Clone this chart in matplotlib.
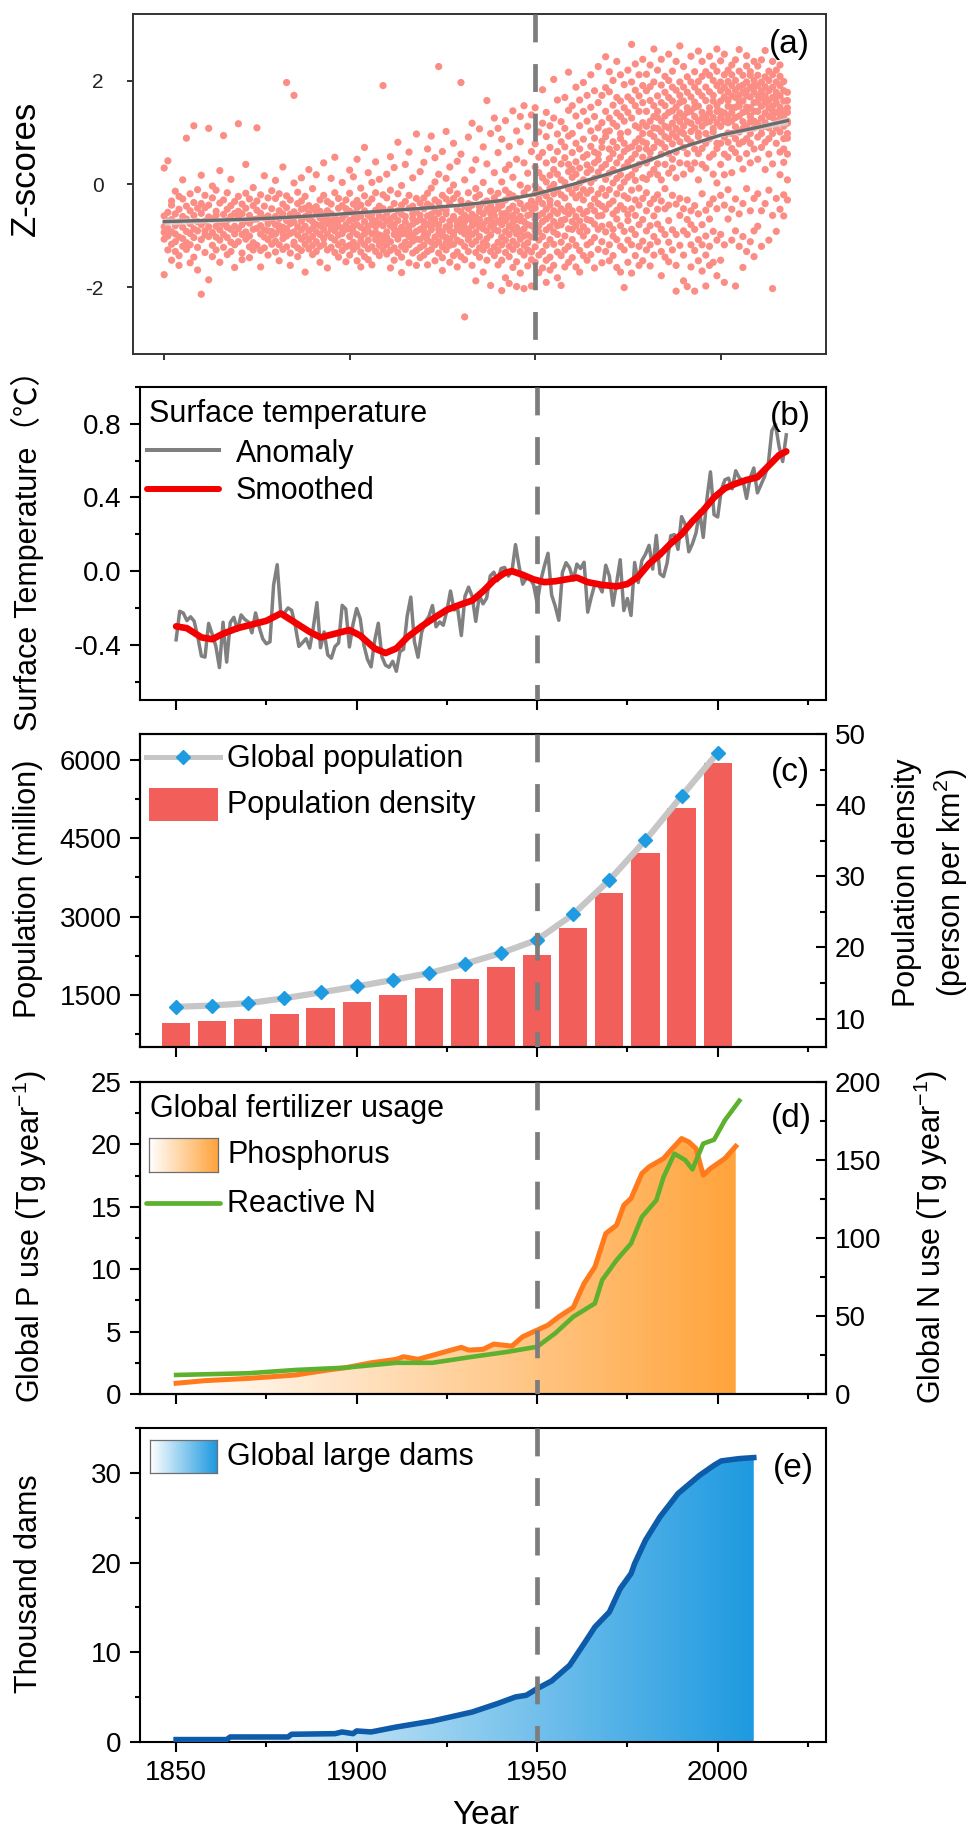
import numpy as np
import matplotlib
matplotlib.use("Agg")
import matplotlib.pyplot as plt
from matplotlib.colors import LinearSegmentedColormap
from matplotlib.lines import Line2D
from matplotlib.patches import Rectangle
from matplotlib.ticker import MultipleLocator, FormatStrFormatter

plt.rcParams['font.family'] = ['Liberation Sans', 'DejaVu Sans']
plt.rcParams['axes.unicode_minus'] = False
plt.rcParams['mathtext.fontset'] = 'custom'
plt.rcParams['mathtext.rm'] = 'Liberation Sans'
plt.rcParams['mathtext.default'] = 'regular'

# ---------------- (a) z-scores, one string per year, values x100 ----------------
z_1850s = ["-176 -83 -107 -62 31 -94", "45 -101 -72 -128 -55 -86", "-93 -117 -41 -69 -148 -33",
           "-58 -112 -14 -81 -131 -97", "-139 -74 -24 -103 -49 -158", "-84 -29 -121 -63 8 -106",
           "89 -68 -114 -43 -92 -127", "-52 -96 -153 -19 -77 -118", "113 -104 -61 -87 -36 -142",
           "-123 -47 -91 -11 -73 -167"]
z_1860s = ["-214 -79 -38 -108 -57 17", "-91 -133 -46 -72 -22 -99", "-186 108 -64 -102 -41 -83",
           "-68 -119 -27 -94 -141 -4", "-103 -53 -82 -128 -61 -12", "-37 -109 -74 -89 26 -152",
           "94 -59 -123 -78 -31 -98", "-84 -137 -49 -104 -17 -71", "-113 -42 -88 -63 -131 9",
           "-57 -97 -34 -162 -82 -118"]
z_1870s = ["117 -66 -112 -53 -87 -24", "-98 -58 -134 -39 -79 -147", "-47 -93 -18 -107 -72 38",
           "-122 -76 -61 -143 -29 -101", "-69 -114 -42 -88 -7 -128", "109 -86 -51 -119 -68 -33",
           "-81 -129 -57 -97 -21 -161", "-43 -103 -66 -124 16 -89", "-108 -62 -91 -27 -138 -77",
           "-92 -48 -117 -71 -13 -99"]
z_1880s = ["-63 -97 -28 -132 -79 7 -111", "-88 -52 -118 -67 -149 -19 -81",
           "-106 -39 -84 -127 -58 33 -96", "197 -71 -101 -46 -122 -23 -87",
           "-77 -134 -59 -96 -31 -158 -69", "172 -93 -54 -113 -74 2 -118",
           "-99 -61 -124 -38 -83 -141 -16", "-72 -107 -33 -89 -129 -49 12",
           "-117 -82 -47 -101 -24 -63 -171", "-57 -91 -126 -42 -108 -68 28"]
z_1890s = ["-86 -48 -119 -73 -9 -102 -137", "-79 -112 -44 -131 -57 18 -93",
           "-98 -66 -31 -121 -81 -53 -152", "-61 -117 -88 -22 -106 -74 41",
           "-128 -77 -52 -97 -34 -69 -163", "-73 -104 -39 -123 -87 11 -58",
           "-109 -64 -91 -17 -133 -78 52", "-82 -118 -47 -99 -71 -28 -142",
           "-96 -42 -113 -67 3 -86 -129", "-59 -88 -122 -31 -79 -151 -48"]
z_1900s = ["-87 -53 -119 -71 -18 -102 -138 27", "-113 -68 -39 -93 -127 -57 14 -82",
           "-79 -121 -46 -98 -32 -149 -66 48", "-62 -103 -132 -41 -84 -111 -8 -161",
           "-118 -73 -89 -52 -141 -23 -97 71", "-82 -109 -37 -126 -61 -91 22 -147",
           "-97 -58 -122 -29 -78 -157 3 -68", "-51 -94 -131 -72 -108 -17 43 -83",
           "-112 -77 -43 -119 -62 -99 -139 9", "191 -66 -101 -48 -128 -81 -21 -114"]
z_1910s = ["-93 -118 -57 -27 -104 -136 19 -72", "-81 -49 -112 -129 -68 -12 -163 53",
           "-98 -63 -124 -38 -87 -148 32 -79", "-71 -107 -52 -133 -19 -92 81 -101",
           "-121 -84 -41 -97 -59 -142 -3 -172", "-63 -89 -127 -34 -113 -74 38 -96",
           "-102 -47 -83 -118 -22 -153 62 -91", "-78 -111 -58 -134 -43 -99 12 -67",
           "-92 -129 -54 -73 -107 -28 97 -158", "-108 -69 -37 -88 -123 -61 24 -143"]
z_1920s = ["-82 -119 -48 -101 -27 -73 -138 42 -91", "-97 -62 -131 -79 -18 -109 -39 68 -157",
           "-71 -113 -43 -89 -127 -8 -59 -83 93", "-118 -77 -52 -103 -31 -149 4 -68 51",
           "228 -88 -57 -112 -36 -134 -79 19 -97", "-69 -122 -47 -93 -143 -22 -101 63 -168",
           "-104 -58 -83 -128 -29 -114 11 -51 102", "-81 -107 -38 -72 -152 -91 33 -119 -13",
           "-117 -63 -94 -28 -99 -139 -67 79 -2", "-49 -88 -132 -74 -109 -19 44 -161 -82"]
z_1930s = ["197 -79 -113 -54 -92 -141 -32 58 -68", "-258 -97 -61 -121 -43 -84 8 -147 -73",
           "-89 -48 -108 -67 -131 -17 91 -102 -38", "-72 -117 -81 -41 -98 -158 27 -59 118",
           "-111 -64 -93 -133 -26 -77 47 -188 -9", "-83 -102 -53 -124 -69 -21 107 -142 -44",
           "-58 -114 -87 -37 -128 3 72 -79 -171", "162 -91 -49 -119 -71 -33 -106 39 -148",
           "-99 -68 -131 -42 -82 -14 98 -197 -57", "-77 -122 -62 -88 -27 -139 22 -51 128"]
z_1940s = ["-91 -47 -113 -72 -129 -18 61 -157 -36 108", "-68 -103 -41 -118 -79 4 -148 87 -58 -207",
           "-109 -57 -92 -31 -133 -71 28 -182 123 -12", "-82 -121 -49 -98 -19 -141 73 -63 -193 37",
           "-61 -88 -127 -43 -111 13 -74 142 -162 -23", "-97 -69 -118 -52 -84 -28 103 -151 -199 48",
           "-92 -38 -107 -63 -131 -2 82 -173 -71 131", "-73 -119 -48 -87 -17 -138 41 -101 152 -203",
           "-114 -79 -42 -99 -61 21 -159 112 -8 -128", "-58 -103 -132 -33 -81 63 -147 -47 134 -198"]
z_1950s = ["-47 -91 -18 -122 33 -68 -152 78 -3 -39 148", "-81 -29 -109 22 -61 -138 101 -11 -172 52 -93",
           "-38 -102 12 -73 -131 61 -17 -163 118 -57 183", "-68 -23 -119 41 -89 -49 92 -148 4 -191 139",
           "-32 -108 17 -62 -83 71 -142 -8 113 -41 -167", "-93 -52 28 -117 -1 -73 128 -158 47 -19 203",
           "-57 -12 -98 63 -132 -38 97 -81 19 -182 163", "-21 -79 39 -113 -48 82 -139 8 121 -71 -197",
           "-101 -27 51 -69 3 -128 108 -53 -161 72 168", "-43 -87 24 -58 93 -121 -9 143 -152 38 217"]
z_1960s = ["-73 -18 61 -108 13 -52 98 -143 29 -88 152", "-27 43 -81 -7 79 -119 19 -63 132 -161 188",
           "-92 2 -49 68 -129 31 -21 113 -72 163 -171", "-11 -58 52 -101 87 -31 8 -139 141 -83 197",
           "-53 22 -91 57 -18 122 -118 37 -69 172 -148", "3 -71 73 -42 103 -113 28 -12 149 -137 212",
           "-78 41 -29 89 -104 11 131 -52 62 -163 181", "-19 58 -62 109 -127 23 -88 158 47 -38 228",
           "-61 32 83 -9 -112 119 -43 71 -153 172 -82", "9 -49 92 -93 38 141 -22 -131 101 187 247"]
z_1970s = ["-39 49 103 -79 21 128 -118 68 -11 179 -149 218", "28 -58 82 -101 118 2 -33 153 -139 59 201 -88",
           "-68 41 112 -19 71 -108 138 11 -162 168 -51 238", "18 -81 88 -42 131 52 -121 -7 161 98 -171 212",
           "-49 63 122 -92 33 148 -23 79 -128 193 4 -201", "42 -28 101 -71 139 13 -109 169 69 -152 221 -59",
           "-88 72 128 -12 49 -118 162 18 -48 198 -173 271", "7 -61 113 81 -98 152 29 -139 182 58 -31 233",
           "-41 88 141 -79 38 171 -8 -121 109 212 -158 69", "52 -69 119 12 -111 158 82 -28 191 -149 242 98"]
z_1980s = ["-17 79 141 -91 41 181 112 -52 9 -128 213 68", "61 -38 122 162 -81 19 98 -118 189 49 231 -159",
           "-62 92 152 28 -102 131 71 -29 198 -138 109 262", "39 -78 108 171 -21 82 141 -112 18 221 -49 129",
           "-33 101 158 58 -88 122 8 192 -131 79 242 -178", "71 -48 132 178 -9 92 152 -98 38 209 -142 112",
           "-71 109 168 21 -113 139 59 201 -41 88 252 -151", "48 -22 118 161 -89 78 188 31 -128 142 219 98",
           "-39 91 149 12 -98 129 182 62 -158 108 238 -208", "82 -61 138 172 -28 101 198 41 -119 121 268 158"]
z_1990s = ["-48 112 161 19 -91 131 188 71 -138 98 228 -188", "59 -31 121 178 -98 88 148 208 -69 39 139 -199",
           "-79 102 169 29 -118 141 198 81 -52 118 248 -161", "41 -42 131 188 -88 109 159 218 -129 68 149 -208",
           "-58 92 151 8 -108 179 122 59 -149 199 258 99", "69 -19 139 171 -79 112 209 38 -118 128 238 -169",
           "-51 98 162 31 -101 188 131 79 -138 218 119 -198", "52 -68 121 179 -39 148 211 88 -121 139 248 -158",
           "-29 108 172 58 -92 129 201 19 -152 161 229 101", "79 -48 141 191 2 119 219 69 -109 152 262 -178"]
z_2000s = ["38 112 161 198 -22 129 79 181 -98 141 239 -148", "91 138 -41 169 212 58 121 -118 188 18 252 -191",
           "119 52 179 -68 151 221 99 -11 162 81 199 131", "69 148 191 22 122 231 -49 171 98 -109 139 212",
           "129 88 168 -29 201 111 149 61 -91 182 241 -198", "101 158 49 189 132 -58 219 78 151 -121 172 261",
           "139 82 178 108 -38 211 161 29 121 -102 192 -162", "112 171 59 198 141 -9 88 229 149 -131 181 249",
           "148 98 188 41 131 218 -52 169 79 121 -112 211", "122 179 68 158 201 109 -28 141 238 -91 191 -141"]
z_2010s = ["141 91 191 159 48 118 211 -19 171 -82 229", "109 168 71 151 198 128 -52 98 181 -121 241",
           "158 119 189 81 138 208 28 171 -38 112 259", "131 181 88 148 219 109 -12 162 58 -109 201",
           "151 98 188 129 168 39 212 -61 141 -203 238", "169 122 198 139 79 158 221 -28 109 -92 178",
           "128 191 101 149 209 62 171 -49 138 18 231", "161 112 181 141 199 68 129 -21 42 88 -62",
           "139 178 98 162 118 58 8 -31 89 122 148"]

curve_years = [1850, 1860, 1870, 1880, 1890, 1900, 1910, 1920, 1930, 1940,
               1950, 1960, 1970, 1980, 1990, 2000, 2010, 2018]
curve_z = [-0.73, -0.71, -0.69, -0.66, -0.62, -0.57, -0.52, -0.47, -0.41, -0.33,
           -0.20, -0.01, 0.20, 0.44, 0.72, 0.95, 1.10, 1.23]
curve_se = [0.07, 0.05, 0.04, 0.035, 0.03, 0.03, 0.03, 0.03, 0.03, 0.03,
            0.03, 0.03, 0.03, 0.03, 0.03, 0.035, 0.05, 0.08]

# ---------------- (b) surface temperature anomaly ----------------
temp_years = list(range(1850, 2020))
temp_anomaly = [
    -0.373, -0.218, -0.228, -0.269, -0.248, -0.272, -0.358, -0.461, -0.467, -0.284,
    -0.343, -0.407, -0.524, -0.278, -0.494, -0.279, -0.251, -0.321, -0.238, -0.262,
    -0.276, -0.335, -0.227, -0.304, -0.368, -0.395, -0.384, -0.075, 0.035, -0.230,
    -0.227, -0.200, -0.213, -0.296, -0.409, -0.389, -0.367, -0.418, -0.307, -0.171,
    -0.416, -0.330, -0.455, -0.473, -0.410, -0.390, -0.186, -0.206, -0.412, -0.289,
    -0.203, -0.259, -0.402, -0.479, -0.520, -0.377, -0.283, -0.465, -0.511, -0.522,
    -0.490, -0.544, -0.437, -0.424, -0.244, -0.141, -0.383, -0.468, -0.333, -0.275,
    -0.247, -0.187, -0.302, -0.276, -0.294, -0.215, -0.108, -0.210, -0.206, -0.350,
    -0.137, -0.087, -0.137, -0.273, -0.131, -0.178, -0.147, -0.026, -0.006, -0.052,
    0.014, 0.020, -0.027, -0.004, 0.144, 0.025, -0.071, -0.038, -0.039, -0.074,
    -0.173, -0.052, 0.028, 0.097, -0.129, -0.190, -0.267, -0.007, 0.046, 0.017,
    -0.049, 0.038, 0.014, 0.048, -0.223, -0.140, -0.068, -0.074, -0.113, 0.032,
    -0.027, -0.186, -0.065, 0.062, -0.214, -0.149, -0.241, 0.047, -0.062, 0.057,
    0.092, 0.140, 0.011, 0.194, -0.014, -0.030, 0.045, 0.192, 0.198, 0.118,
    0.296, 0.254, 0.105, 0.148, 0.208, 0.325, 0.183, 0.390, 0.539, 0.306,
    0.294, 0.441, 0.496, 0.505, 0.447, 0.545, 0.506, 0.491, 0.395, 0.506,
    0.560, 0.425, 0.470, 0.514, 0.579, 0.763, 0.797, 0.677, 0.595, 0.740]
smooth_years = [1850, 1853, 1857, 1860, 1863, 1867, 1871, 1875, 1879, 1883, 1887,
                1890, 1894, 1898, 1901, 1905, 1908, 1911, 1914, 1918, 1921, 1925,
                1929, 1932, 1935, 1938, 1941, 1943, 1946, 1949, 1952, 1955, 1958,
                1961, 1964, 1968, 1972, 1975, 1978, 1981, 1984, 1987, 1990, 1993,
                1996, 1999, 2002, 2005, 2008, 2011, 2014, 2017, 2019]
smooth_temp = [-0.30, -0.31, -0.36, -0.37, -0.34, -0.31, -0.29, -0.27, -0.23, -0.28, -0.33,
               -0.36, -0.34, -0.32, -0.35, -0.42, -0.445, -0.42, -0.36, -0.30, -0.26, -0.21,
               -0.18, -0.16, -0.11, -0.05, -0.01, 0.00, -0.02, -0.045, -0.06, -0.055, -0.045,
               -0.035, -0.06, -0.075, -0.083, -0.07, -0.03, 0.04, 0.09, 0.15, 0.20, 0.27,
               0.33, 0.40, 0.45, 0.475, 0.495, 0.51, 0.57, 0.63, 0.65]

# ---------------- (c) population ----------------
pop_years = [1850, 1860, 1870, 1880, 1890, 1900, 1910, 1920,
             1930, 1940, 1950, 1960, 1970, 1980, 1990, 2000]
population = [1270, 1295, 1340, 1435, 1545, 1660, 1785, 1915,
              2095, 2300, 2555, 3045, 3700, 4465, 5310, 6140]
pop_density = [9.4, 9.6, 9.9, 10.6, 11.5, 12.3, 13.3, 14.3,
               15.6, 17.2, 19.0, 22.7, 27.7, 33.3, 39.6, 45.9]

# ---------------- (d) fertilizer ----------------
p_years = [1850, 1858, 1870, 1883, 1892, 1897, 1904, 1911, 1913, 1917, 1923, 1929,
           1931, 1935, 1938, 1943, 1946, 1950, 1953, 1956, 1960, 1963, 1966, 1969,
           1972, 1974, 1976, 1979, 1981, 1985, 1987, 1990, 1992, 1994, 1996, 1998,
           2002, 2005]
p_use = [0.86, 1.07, 1.25, 1.52, 1.92, 2.11, 2.50, 2.78, 2.99, 2.78, 3.26, 3.74,
         3.52, 3.58, 4.00, 3.84, 4.59, 5.12, 5.52, 6.19, 6.94, 8.86, 10.19, 12.86,
         13.53, 15.13, 15.67, 17.67, 18.20, 18.87, 19.53, 20.47, 20.20, 19.67, 17.53, 18.07,
         18.87, 19.85]
n_years = [1850, 1870, 1883, 1897, 1911, 1921, 1931, 1942, 1950, 1955, 1960, 1966,
           1968, 1972, 1976, 1979, 1983, 1985, 1988, 1991, 1993, 1996, 1999, 2002, 2006]
n_use = [12.2, 13.3, 15.4, 16.9, 20.0, 20.0, 23.5, 27.1, 30.3, 38.9, 49.5, 58.1,
         73.0, 85.8, 96.5, 113.5, 124.2, 139.0, 154.0, 150.0, 144.0, 160.5, 163.0, 175.5, 188.0]

# ---------------- (e) dams ----------------
dam_years = [1850, 1864, 1865, 1881, 1882, 1894, 1896, 1899, 1900, 1904, 1911, 1921,
             1932, 1939, 1944, 1947, 1950, 1954, 1959, 1963, 1966, 1970, 1973, 1976,
             1977, 1980, 1984, 1989, 1995, 1999, 2001, 2006, 2010]
dams = [0.27, 0.27, 0.56, 0.56, 0.86, 0.93, 1.12, 0.93, 1.23, 1.12, 1.67, 2.34,
        3.34, 4.28, 5.02, 5.21, 5.95, 6.80, 8.55, 10.97, 12.82, 14.49, 17.10, 18.77,
        19.89, 22.49, 25.08, 27.69, 29.73, 30.85, 31.33, 31.59, 31.70]

W, H = 971, 1832
fig = plt.figure(figsize=(W / 100, H / 100), dpi=100)


def fx(x):
    return x / W


def fy(y):
    return 1 - y / H


def px_axes(left, top, right, bottom):
    return fig.add_axes([fx(left), fy(bottom), (right - left) / W, (bottom - top) / H])


def vline_1950(ax):
    ax.plot([1950, 1950], [1, 0], transform=ax.get_xaxis_transform(), color='#7d7d7d',
            lw=3.4, linestyle=(0, (5.9, 4.6)), zorder=10, solid_capstyle='butt')


def origin_style(ax, bottom_labels=False):
    for s in ax.spines.values():
        s.set_linewidth(1.5)
        s.set_color('black')
    ax.set_xlim(1840, 2030)
    ax.xaxis.set_major_locator(MultipleLocator(50))
    ax.xaxis.set_minor_locator(MultipleLocator(25))
    ax.tick_params(which='major', direction='out', length=7.2, width=1.5, labelsize=20, pad=6)
    ax.tick_params(which='minor', direction='out', length=3.6, width=1.5)
    ax.tick_params(top=False, right=False, labelbottom=bottom_labels)


def right_style(ax2):
    for s in ax2.spines.values():
        s.set_linewidth(1.5)
    ax2.tick_params(axis='y', which='major', direction='in', length=7.2, width=1.5,
                    labelsize=20, pad=6.5)
    ax2.tick_params(axis='y', which='minor', direction='in', length=4, width=1.5)


def gradient_fill(ax, x, y, cmap, zorder=1):
    poly = ax.fill_between(x, 0, y, facecolor='none', edgecolor='none')
    grad = np.linspace(0, 1, 256).reshape(1, -1)
    im = ax.imshow(grad, cmap=cmap, aspect='auto', origin='lower',
                   extent=[x[0], x[-1], 0, max(y)], zorder=zorder)
    im.set_clip_path(poly.get_paths()[0], transform=ax.transData)


def legend_line(x0, x1, y, **kw):
    fig.add_artist(Line2D([fx(x0), fx(x1)], [fy(y), fy(y)], transform=fig.transFigure, **kw))


def legend_text(x, y, s):
    fig.text(fx(x), fy(y), s, fontsize=22, ha='left', va='baseline')


def legend_gradient(x0, y0, x1, y1, cmap):
    lax = fig.add_axes([fx(x0), fy(y1), (x1 - x0) / W, (y1 - y0) / H])
    lax.imshow(np.linspace(0, 1, 100).reshape(1, -1), cmap=cmap, aspect='auto')
    lax.set_xticks([])
    lax.set_yticks([])
    for s in lax.spines.values():
        s.set_color('#6e6e6e')
        s.set_linewidth(0.9)


def side_label(x, y, s, size=22, **kw):
    fig.text(fx(x), fy(y), s, fontsize=size, rotation=90, ha='center', va='center', **kw)


orange_cmap = LinearSegmentedColormap.from_list('orng', ['#ffffff', '#ffa43c'])
blue_cmap = LinearSegmentedColormap.from_list('blu', ['#ffffff', '#1e9ae0'])

# ---------- panel a ----------
sc_years, sc_z = [], []
for start, rows in [(1850, z_1850s), (1860, z_1860s), (1870, z_1870s), (1880, z_1880s),
                    (1890, z_1890s), (1900, z_1900s), (1910, z_1910s), (1920, z_1920s),
                    (1930, z_1930s), (1940, z_1940s), (1950, z_1950s), (1960, z_1960s),
                    (1970, z_1970s), (1980, z_1980s), (1990, z_1990s), (2000, z_2000s),
                    (2010, z_2010s)]:
    for i, row in enumerate(rows):
        for v in row.split():
            sc_years.append(start + i)
            sc_z.append(int(v) / 100)

ax_a = px_axes(133, 14, 826, 354)
ax_a.scatter(sc_years, sc_z, s=27, color='#fb8d85', edgecolors='none', zorder=2)
cz = np.array(curve_z)
cse = np.array(curve_se)
ax_a.fill_between(curve_years, cz - cse, cz + cse, color='#d6d6d6', alpha=0.8, lw=0, zorder=3)
ax_a.plot(curve_years, curve_z, color='#6b6b6b', lw=2.4, zorder=4)
vline_1950(ax_a)
ax_a.set_xlim(1841.6, 2028.4)
ax_a.set_ylim(-3.3, 3.3)
ax_a.set_xticks([1850, 1900, 1950, 2000])
ax_a.set_yticks([-2, 0, 2])
for s in ax_a.spines.values():
    s.set_color('#333333')
    s.set_linewidth(1.4)
ax_a.tick_params(direction='out', length=4.3, width=1.4, color='#333333',
                 labelsize=15, labelcolor='#222222', pad=17, labelbottom=False)
side_label(25, 168, 'Z-scores', size=25)
fig.text(fx(789), fy(45), '(a)', fontsize=24, ha='center', va='center')

# ---------- panel b ----------
ax_b = px_axes(140, 387, 826, 700)
ax_b.plot(temp_years, temp_anomaly, color='#808080', lw=2.5, zorder=2)
ax_b.plot(smooth_years, smooth_temp, color='#f50000', lw=4.8, solid_capstyle='round', zorder=3)
vline_1950(ax_b)
origin_style(ax_b)
ax_b.set_ylim(-0.7, 1.0)
ax_b.yaxis.set_major_locator(MultipleLocator(0.4))
ax_b.yaxis.set_minor_locator(MultipleLocator(0.2))
ax_b.yaxis.set_major_formatter(FormatStrFormatter('%.1f'))
side_label(27, 543, 'Surface Temperature（℃）',
           family=['Liberation Sans', 'Noto Sans CJK SC', 'DejaVu Sans'])
fig.text(fx(790), fy(417), '(b)', fontsize=24, ha='center', va='center')
legend_text(149, 422, 'Surface temperature')
legend_line(147, 219, 450, color='#808080', lw=2.9)
legend_text(236, 461.5, 'Anomaly')
legend_line(147, 219, 489, color='#f50000', lw=4.3, solid_capstyle='round')
legend_text(236, 499, 'Smoothed')

# ---------- panel c ----------
ax_c = px_axes(140, 734, 826, 1047)
ax_c2 = ax_c.twinx()
ax_c2.bar(pop_years, pop_density, width=7.8, color='#f25f5a', zorder=1)
ax_c.plot(pop_years, population, color='#c6c6c6', lw=4.5, zorder=2)
ax_c.plot(pop_years, population, linestyle='none', marker='D', markersize=7.5,
          color='#1f9be2', zorder=3)
vline_1950(ax_c)
ax_c.set_zorder(ax_c2.get_zorder() + 1)
ax_c.patch.set_visible(False)
origin_style(ax_c)
right_style(ax_c2)
ax_c.set_ylim(500, 6500)
ax_c.yaxis.set_major_locator(MultipleLocator(1500))
ax_c.yaxis.set_minor_locator(MultipleLocator(750))
ax_c2.set_ylim(6, 50)
ax_c2.yaxis.set_major_locator(MultipleLocator(10))
ax_c2.yaxis.set_minor_locator(MultipleLocator(5))
side_label(28, 889, 'Population (million)')
side_label(931, 883, 'Population density\n(person per km$^{2}$)', linespacing=1.3)
fig.text(fx(790), fy(772), '(c)', fontsize=24, ha='center', va='center')
legend_line(146, 220, 757, color='#c6c6c6', lw=3.6)
fig.add_artist(Line2D([fx(183)], [fy(757)], transform=fig.transFigure, marker='D',
                      markersize=7.5, color='#1f9be2', linestyle='none'))
legend_text(227, 766.5, 'Global population')
fig.add_artist(Rectangle((fx(149), fy(821)), 69 / W, 33 / H, transform=fig.transFigure,
                         facecolor='#f25f5a', edgecolor='none'))
legend_text(227, 813, 'Population density')

# ---------- panel d ----------
ax_d = px_axes(140, 1082, 826, 1394)
ax_d2 = ax_d.twinx()
gradient_fill(ax_d, p_years, p_use, orange_cmap)
ax_d.plot(p_years, p_use, color='#ff7a1c', lw=3.6, zorder=3)
ax_d2.plot(n_years, n_use, color='#5db12e', lw=3.3, zorder=3)
vline_1950(ax_d2)
origin_style(ax_d)
right_style(ax_d2)
ax_d.set_xlim(1840, 2030)
ax_d.set_ylim(0, 25)
ax_d.yaxis.set_major_locator(MultipleLocator(5))
ax_d.yaxis.set_minor_locator(MultipleLocator(2.5))
ax_d2.set_ylim(0, 200)
ax_d2.yaxis.set_major_locator(MultipleLocator(50))
ax_d2.yaxis.set_minor_locator(MultipleLocator(25))
side_label(30, 1237, 'Global P use (Tg year$^{-1}$)')
side_label(931, 1237, 'Global N use (Tg year$^{-1}$)')
fig.text(fx(791), fy(1118), '(d)', fontsize=24, ha='center', va='center')
legend_text(150, 1117, 'Global fertilizer usage')
legend_gradient(149, 1138, 218, 1172, orange_cmap)
legend_text(227, 1163, 'Phosphorus')
legend_line(146, 220, 1203, color='#5db12e', lw=3.4, solid_capstyle='round')
legend_text(227, 1211.5, 'Reactive N')

# ---------- panel e ----------
ax_e = px_axes(140, 1428, 826, 1742)
gradient_fill(ax_e, dam_years, dams, blue_cmap)
ax_e.plot(dam_years, dams, color='#0d5ba9', lw=4.0, zorder=3)
vline_1950(ax_e)
origin_style(ax_e, bottom_labels=True)
ax_e.set_xlim(1840, 2030)
ax_e.set_ylim(0, 35)
ax_e.yaxis.set_major_locator(MultipleLocator(10))
ax_e.yaxis.set_minor_locator(MultipleLocator(5))
side_label(29, 1584, 'Thousand dams')
fig.text(fx(486), fy(1816), 'Year', fontsize=24, ha='center', va='center')
fig.text(fx(793), fy(1468), '(e)', fontsize=24, ha='center', va='center')
legend_gradient(150, 1440, 217, 1473, blue_cmap)
legend_text(227, 1465, 'Global large dams')

fig.savefig('out.png', dpi=100)
